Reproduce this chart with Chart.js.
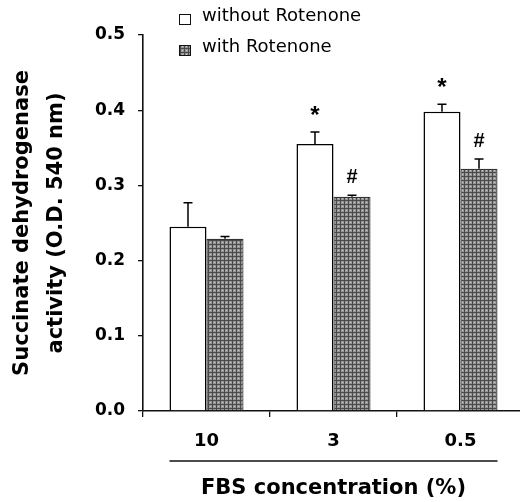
<!DOCTYPE html>
<html><head><meta charset="utf-8">
<script src="https://cdn.jsdelivr.net/npm/chart.js@4/dist/chart.umd.min.js"></script>
<style>html,body{margin:0;padding:0;background:#fff;overflow:hidden}#wrap{width:520px;height:502px;overflow:hidden}canvas{display:block}</style>
</head><body><div id="wrap"><canvas id="c" width="524" height="502"></canvas></div>
<script>
const categories = ['10', '3', '0.5'];
const seriesLabels = ['without Rotenone', 'with Rotenone'];
const withoutRotenone = [0.245, 0.355, 0.398];
const withoutRotenoneErr = [0.032, 0.016, 0.010];
const withRotenone = [0.229, 0.285, 0.322];
const withRotenoneErr = [0.003, 0.002, 0.013];
const withoutMarks = ['', '*', '*'];
const withMarks = ['', '#', '#'];
const yTickLabels = ['0.0', '0.1', '0.2', '0.3', '0.4', '0.5'];
const xTitle = 'FBS concentration (%)';
const yTitle = ['Succinate dehydrogenase', 'activity (O.D. 540 nm)'];

const canvas = document.getElementById('c');
function makePattern() {
  const p = document.createElement('canvas'); p.width = 4; p.height = 4;
  const g = p.getContext('2d');
  g.fillStyle = '#969696'; g.fillRect(0, 0, 4, 4);
  g.fillStyle = '#4a4a4a';
  g.fillRect(0, 0, 4, 1); g.fillRect(0, 0, 1, 4);
  g.fillStyle = '#c8c8c8'; g.fillRect(2, 2, 1, 1);
  return canvas.getContext('2d').createPattern(p, 'repeat');
}
const grayFill = makePattern();

const AX = '"DejaVu Sans", sans-serif';

const extrasPlugin = {
  id: 'extras',
  afterDatasetsDraw(chart) {
    const ctx = chart.ctx, y = chart.scales.y;
    const vals = [withoutRotenone, withRotenone];
    const errs = [withoutRotenoneErr, withRotenoneErr];
    const marks = [withoutMarks, withMarks];
    ctx.save();
    ctx.strokeStyle = '#000'; ctx.lineWidth = 1.5;
    for (let d = 0; d < 2; d++) {
      chart.getDatasetMeta(d).data.forEach((bar, i) => {
        const top = y.getPixelForValue(vals[d][i]);
        const et = y.getPixelForValue(vals[d][i] + errs[d][i]);
        ctx.beginPath();
        ctx.moveTo(bar.x, top); ctx.lineTo(bar.x, et);
        ctx.moveTo(bar.x - 4.5, et); ctx.lineTo(bar.x + 4.5, et);
        ctx.stroke();
        if (marks[d][i]) {
          ctx.fillStyle = '#000';
          ctx.textAlign = 'center'; ctx.textBaseline = 'alphabetic';
          if (d === 0) {
            ctx.font = 'bold 24px "Liberation Sans", Arial, sans-serif';
            ctx.fillText(marks[d][i], bar.x, et - 9);
          } else {
            ctx.font = 'bold 20px "Liberation Sans", Arial, sans-serif';
            ctx.fillText(marks[d][i], bar.x, et - 12);
          }
        }
      });
    }
    ctx.restore();
  },
  afterDraw(chart) {
    const ctx = chart.ctx, xs = chart.scales.x;
    const b0 = chart.getDatasetMeta(0).data[0];
    const b1 = chart.getDatasetMeta(1).data[categories.length - 1];
    ctx.save();
    ctx.strokeStyle = '#111'; ctx.lineWidth = 1.3;
    ctx.beginPath();
    ctx.moveTo(b0.x - b0.width / 2, xs.top + 50);
    ctx.lineTo(b1.x + b1.width / 2, xs.top + 50);
    ctx.stroke();
    // legend
    const fills = ['#ffffff', grayFill];
    ctx.font = '500 18px ' + AX;
    ctx.textAlign = 'left'; ctx.textBaseline = 'middle';
    seriesLabels.forEach((lab, k) => {
      const by = 14 + k * 31;
      ctx.fillStyle = fills[k];
      ctx.fillRect(179, by, 12, 11);
      ctx.strokeStyle = '#111'; ctx.lineWidth = 1;
      ctx.strokeRect(179.5, by + 0.5, 11, 10);
      ctx.fillStyle = '#000';
      ctx.fillText(lab, 202, by + 2);
    });
    ctx.restore();
  }
};

new Chart(canvas, {
  type: 'bar',
  data: {
    labels: categories,
    datasets: [
      { label: seriesLabels[0], data: withoutRotenone, backgroundColor: '#ffffff', borderColor: '#000', borderWidth: 1.5,
        categoryPercentage: 0.583, barPercentage: 1.0 },
      { label: seriesLabels[1], data: withRotenone, backgroundColor: grayFill, borderColor: '#333', borderWidth: 1.2,
        categoryPercentage: 0.583, barPercentage: 1.0 }
    ]
  },
  options: {
    responsive: false,
    animation: false,
    devicePixelRatio: 1,
    layout: { padding: { top: 35, left: 0, right: 0, bottom: 0 } },
    plugins: { legend: { display: false }, tooltip: { enabled: false }, title: { display: false } },
    scales: {
      x: {
        grid: { display: true, drawOnChartArea: false, drawTicks: true, tickLength: 6, color: '#111', lineWidth: 1.3, offset: true },
        border: { display: true, color: '#111', width: 1.6 },
        ticks: { color: '#000', font: { family: AX, size: 18, weight: 'bold' }, padding: 14, maxRotation: 0 },
        title: { display: true, text: xTitle, color: '#000', font: { family: AX, size: 21, weight: 'bold' }, padding: { top: 0, bottom: 1 } },
        afterFit(s) { s.height = 91; }
      },
      y: {
        min: 0, max: 0.5,
        grid: { display: true, drawOnChartArea: false, drawTicks: true, tickLength: 5, color: '#111', lineWidth: 1.3 },
        border: { display: true, color: '#111', width: 1.6 },
        ticks: { stepSize: 0.1, color: '#000', font: { family: AX, size: 17, weight: 'bold' }, padding: 13,
          callback: (v, i) => yTickLabels[i] },
        title: { display: true, text: yTitle, color: '#000', font: { family: AX, size: 21, weight: 'bold', lineHeight: 1.65 }, padding: { top: 5, bottom: 0 } },
        afterFit(s) { s.width = 143; }
      }
    }
  },
  plugins: [extrasPlugin]
});
</script></body></html>
